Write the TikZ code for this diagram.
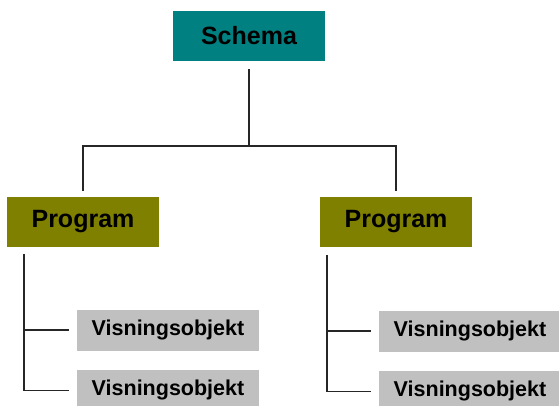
\documentclass[tikz,border=0pt]{standalone}
\usepackage{fontspec}
\setmainfont{Liberation Sans}
\usepackage{tikz}
\usetikzlibrary{positioning}
\definecolor{schemacol}{RGB}{0,128,128}
\definecolor{progcol}{RGB}{128,128,0}
\definecolor{viscol}{RGB}{192,192,192}

\begin{document}
\begin{tikzpicture}[x=1pt,y=-1pt,
  box/.style={inner sep=0pt,minimum width=152pt,minimum height=50pt,
    font=\fontsize{25}{30}\selectfont\bfseries},
  schemabox/.style={box,fill=schemacol},
  progbox/.style={box,fill=progcol},
  visbox/.style={inner sep=0pt,fill=viscol,minimum width=182pt,minimum height=41pt,
    font=\fontsize{21.5}{26}\selectfont\bfseries},
  link/.style={line width=1.7pt,draw=black!85}]
\useasboundingbox (0,0) rectangle (559,406);
\clip (0,0) rectangle (559,406);
\node[schemabox] (schema) at (249,36) {Schema};
\node[progbox] (progA) at (83,222) {Program};
\node[progbox] (progB) at (396,222) {Program};
\node[visbox] (visA1) at (168,330) {Visningsobjekt};
\node[visbox, below=19pt of visA1] (visA2) {Visningsobjekt};
\node[visbox] (visB1) at (470,331) {Visningsobjekt};
\node[visbox, below=19pt of visB1] (visB2) {Visningsobjekt};
\coordinate (fork) at (249,146);
% schema to programs
\draw[link,shorten <=8pt] (schema.south) -- (fork);
\draw[link,shorten <=6pt,shorten >=6pt] (progA.north) |- (fork) -| (progB.north);
% programs to objects
\draw[link,shorten <=7pt,shorten >=8pt] ([xshift=17pt]progA.south west) |- (visA2.west);
\draw[link,shorten >=8pt] ([xshift=17pt,yshift=-8pt]progA.south west) |- (visA1.west);
\draw[link,shorten <=8pt,shorten >=8pt] ([xshift=7pt]progB.south west) |- (visB2.west);
\draw[link,shorten >=8pt] ([xshift=7pt,yshift=-8pt]progB.south west) |- (visB1.west);
\end{tikzpicture}
\end{document}
